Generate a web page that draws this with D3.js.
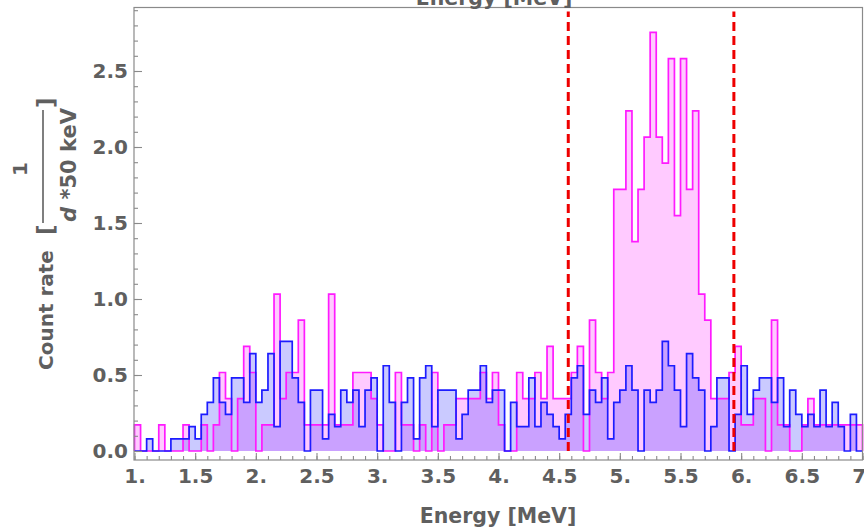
<!DOCTYPE html>
<html>
<head>
<meta charset="utf-8">
<script src="https://cdnjs.cloudflare.com/ajax/libs/d3/7.8.5/d3.min.js"></script>
<style>
  body { margin: 0; background: #fff; }
  svg { display: block; }
  text { font-family: "DejaVu Sans", sans-serif; font-weight: bold; fill: #5f5f5f; }
</style>
</head>
<body>
<div id="viz"></div>
<script>
// 50 keV bins from 1.0 MeV to 7.0 MeV, counts per bin
const binStart = 1.0
const binWidth = 0.05

const pinkCounts = [
  1,0,0,0,1,0,0,0,1,0,
  0,1,0,1,3,2,0,2,4,3,
  0,1,1,6,2,3,3,5,1,1,
  1,1,6,1,1,1,3,3,3,2,
  1,0,0,3,1,1,0,1,0,3,
  0,1,1,2,2,2,2,3,2,3,
  1,0,0,3,2,2,3,2,4,2,
  2,2,3,4,0,5,3,2,3,10,
  10,13,8,10,12,16,12,11,15,9,
  15,10,13,6,5,2,2,2,3,4,
  1,1,2,2,0,5,1,1,0,0,
  1,2,1,1,1,1,1,1,1,1
]
const blueCounts = [
  0,0,1,0,0,0,1,1,1,2,
  1,3,4,6,4,3,6,6,4,8,
  4,5,8,2,9,9,6,4,0,5,
  5,1,3,2,5,4,5,2,5,6,
  0,7,4,0,4,6,1,6,7,2,
  5,5,5,1,3,5,5,7,4,5,
  5,0,4,2,2,6,2,4,3,2,
  1,3,6,7,3,5,4,6,1,4,
  5,7,5,0,5,4,5,9,7,5,
  2,8,6,5,0,2,6,6,0,3,
  7,3,5,6,6,4,6,2,5,3,
  2,3,2,5,2,4,2,0,3,0
]
// measuring time in days for each spectrum
const pinkDays = 5.81
const blueDays = 12.48

const cutEnergies = [4.575, 5.94]

const xTickValues = [1, 1.5, 2, 2.5, 3, 3.5, 4, 4.5, 5, 5.5, 6, 6.5, 7]
const xTickLabels = ["1.", "1.5", "2.", "2.5", "3.", "3.5", "4.", "4.5", "5.", "5.5", "6.", "6.5", "7."]
const yTickValues = [0, 0.5, 1, 1.5, 2, 2.5]
const yTickLabels = ["0.0", "0.5", "1.0", "1.5", "2.0", "2.5"]

const width = 864
const height = 531
const frame = {left: 134, right: 862.5, top: 7.5, bottom: 460}

const svg = d3.select("#viz").append("svg").attr("width", width).attr("height", height)

const x = d3.scaleLinear().domain([1, 7]).range([134.5, 862.5])
const y = d3.scaleLinear().domain([0, 2.5]).range([451, 71])

// step outline for one spectrum, closed down to the baseline at both ends
function stepPoints(counts, days) {
  const pts = [[binStart, 0]]
  counts.forEach((c, i) => pts.push([binStart + i * binWidth, c / days]))
  const end = binStart + counts.length * binWidth
  pts.push([end, counts[counts.length - 1] / days])
  pts.push([end, 0])
  return pts
}

const step = d3.line()
  .x(d => x(d[0]))
  .y(d => y(d[1]))
  .curve(d3.curveStepAfter)

const series = [
  {pts: stepPoints(pinkCounts, pinkDays), color: "#ff1aff"},
  {pts: stepPoints(blueCounts, blueDays), color: "#1c1cff"}
]

const plot = svg.append("g")

plot.selectAll("path.fill")
  .data(series)
  .join("path")
  .attr("class", "fill")
  .attr("d", d => step(d.pts) + "Z")
  .attr("fill", d => d.color)
  .attr("fill-opacity", 0.23)
  .attr("stroke", "none")

plot.selectAll("path.edge")
  .data(series)
  .join("path")
  .attr("class", "edge")
  .attr("d", d => step(d.pts))
  .attr("fill", "none")
  .attr("stroke", d => d.color)
  .attr("stroke-width", 1.7)
  .attr("stroke-linejoin", "miter")

// cut lines
svg.append("g")
  .selectAll("line")
  .data(cutEnergies)
  .join("line")
  .attr("x1", d => x(d)).attr("x2", d => x(d))
  .attr("y1", y(0)).attr("y2", frame.top + 4)
  .attr("stroke", "#ee0000")
  .attr("stroke-width", 3)
  .attr("stroke-dasharray", "9,5")

// frame
svg.append("rect")
  .attr("x", frame.left).attr("y", frame.top)
  .attr("width", frame.right - frame.left).attr("height", frame.bottom - frame.top)
  .attr("fill", "none").attr("stroke", "#8a8a8a").attr("stroke-width", 1.2)

// x axis, ticks pointing into the plot
const xMinor = svg.append("g").attr("transform", `translate(0,${frame.bottom})`)
  .call(d3.axisBottom(x).tickValues(d3.range(1, 7.001, 0.1)).tickSize(-4).tickFormat(""))
const xMajor = svg.append("g").attr("transform", `translate(0,${frame.bottom})`)
  .call(d3.axisBottom(x).tickValues(xTickValues).tickSize(-7).tickPadding(9)
    .tickFormat((d, i) => xTickLabels[i]))

const yMinor = svg.append("g").attr("transform", `translate(${frame.left},0)`)
  .call(d3.axisLeft(y).tickValues(d3.range(0, 2.91, 0.1)).tickSize(-4).tickFormat(""))
const yMajor = svg.append("g").attr("transform", `translate(${frame.left},0)`)
  .call(d3.axisLeft(y).tickValues(yTickValues).tickSize(-8).tickPadding(6)
    .tickFormat((d, i) => yTickLabels[i]))

;[xMinor, xMajor, yMinor, yMajor].forEach(g => {
  g.select(".domain").remove()
  g.selectAll(".tick line").attr("stroke", "#8a8a8a").attr("stroke-width", 1.1)
  g.selectAll(".tick text").attr("font-size", 20).attr("font-family", null)
    .style("fill", "#5f5f5f")
})

// axis titles (the top one is cut off by the picture edge, as in the original)
svg.append("text")
  .attr("x", 498).attr("y", 523)
  .attr("text-anchor", "middle").attr("font-size", 20.5)
  .text("Energy [MeV]")
svg.append("text")
  .attr("x", 494).attr("y", 4.5)
  .attr("text-anchor", "middle").attr("font-size", 20.5)
  .text("Energy [MeV]")

const yLabel = svg.append("g").attr("transform", "translate(46,370) rotate(-90)")
yLabel.append("text")
  .attr("x", 0).attr("y", 7)
  .attr("font-size", 20)
  .text("Count rate")
yLabel.append("text")
  .attr("x", 135).attr("y", 8)
  .attr("font-size", 23).attr("font-weight", "normal")
  .text("[")
yLabel.append("line")
  .attr("x1", 147).attr("x2", 260)
  .attr("y1", -3).attr("y2", -3)
  .attr("stroke", "#5f5f5f").attr("stroke-width", 1.6)
yLabel.append("text")
  .attr("x", 201).attr("y", -19)
  .attr("text-anchor", "middle").attr("font-size", 20)
  .text("1")
const denom = yLabel.append("text")
  .attr("x", 205).attr("y", 30)
  .attr("text-anchor", "middle").attr("font-size", 21)
denom.append("tspan").attr("font-style", "italic").text("d")
denom.append("tspan").text(" *50 keV")
yLabel.append("text")
  .attr("x", 262).attr("y", 8)
  .attr("font-size", 23).attr("font-weight", "normal")
  .text("]")
</script>
</body>
</html>
